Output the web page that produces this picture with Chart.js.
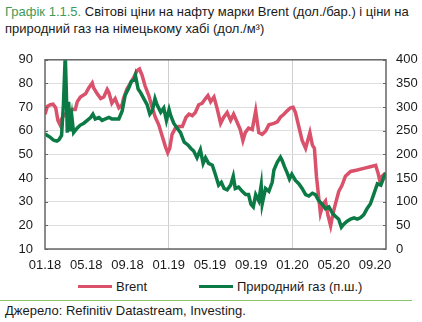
<!DOCTYPE html>
<html>
<head>
<meta charset="utf-8">
<script src="https://cdn.jsdelivr.net/npm/chart.js@4/dist/chart.umd.min.js"></script>
<style>
  body { margin: 0; width: 422px; height: 322px; background: #fff; font-family: "Liberation Sans", Arial, sans-serif; color: #1a1a1a; position: relative; overflow: hidden; }
  #title { position: absolute; left: 5px; top: 3px; font-size: 13px; line-height: 17px; white-space: nowrap; }
  #title .num { color: #3f9b57; }
  #wrap { position: absolute; left: 0; top: 40px; width: 422px; height: 239px; }
  .leg { position: absolute; top: 279px; font-size: 13px; line-height: 16px; white-space: nowrap; }
  .leg i { display: inline-block; width: 34px; height: 3px; vertical-align: middle; margin-right: 4px; position: relative; top: -1px; }
  #rule { position: absolute; left: 0; top: 300px; width: 412px; height: 1px; background: #8cc46c; }
  #src { position: absolute; left: 5px; top: 303px; font-size: 13px; line-height: 16px; }
</style>
</head>
<body>
<div id="title"><span class="num">Графік 1.1.5.</span> Світові ціни на нафту марки Brent (дол./бар.) і ціни на<br>природний газ на німецькому хабі (дол./м³)</div>
<div id="wrap"><canvas id="chart"></canvas></div>
<div class="leg" style="left:78px"><i style="background:#d9516a"></i>Brent</div>
<div class="leg" style="left:199px"><i style="background:#0b7a45"></i>Природний газ (п.ш.)</div>
<div id="rule"></div>
<div id="src">Джерело: Refinitiv Datastream, Investing.</div>
<script>
// Brent, USD per barrel (left axis)
const brentDates = [
  '2018-01-01','2018-01-08','2018-01-17','2018-01-25','2018-02-02','2018-02-08','2018-02-14','2018-02-18',
  '2018-02-24','2018-03-06','2018-03-20','2018-03-30','2018-04-05','2018-04-14','2018-04-29','2018-05-09',
  '2018-05-19','2018-05-23','2018-06-03','2018-06-13','2018-06-22','2018-07-02','2018-07-07','2018-07-16',
  '2018-07-26','2018-08-06','2018-08-16','2018-08-20','2018-08-30','2018-09-10','2018-09-20','2018-09-29',
  '2018-10-06','2018-10-14','2018-10-23','2018-11-03','2018-11-13','2018-11-22','2018-12-02','2018-12-12',
  '2018-12-22','2018-12-29','2019-01-04','2019-01-11','2019-01-21','2019-01-31','2019-02-10','2019-02-20',
  '2019-02-28','2019-03-10','2019-03-19','2019-03-29','2019-04-08','2019-04-18','2019-04-25','2019-05-03',
  '2019-05-13','2019-05-22','2019-06-02','2019-06-11','2019-06-21','2019-07-01','2019-07-10','2019-07-20',
  '2019-07-30','2019-08-07','2019-08-14','2019-08-24','2019-09-04','2019-09-14','2019-09-23','2019-10-03',
  '2019-10-13','2019-10-23','2019-11-07','2019-11-17','2019-11-26','2019-12-06','2019-12-16','2019-12-26',
  '2020-01-03','2020-01-10','2020-01-20','2020-01-30','2020-02-09','2020-02-21','2020-02-28','2020-03-05',
  '2020-03-11','2020-03-18','2020-03-23','2020-03-31','2020-04-07','2020-04-14','2020-04-22','2020-04-29',
  '2020-05-06','2020-05-16','2020-05-26','2020-06-05','2020-06-20','2020-07-10','2020-07-29','2020-08-18',
  '2020-09-03','2020-09-10','2020-09-15','2020-09-22','2020-10-02'
];
const brentValues = [
  67, 70.3, 71, 71.2, 69.7, 64.4, 62.5, 65,
  66.4, 68, 69, 69, 72.3, 74.3, 75.6, 78.2,
  80.2, 78.2, 75.6, 73.6, 74.3, 77.5, 76.2, 71.6,
  73.6, 69.7, 71, 73.6, 77.5, 80.2, 82.8, 85.4,
  86.1, 83.4, 78.9, 74.9, 69.7, 65.7, 62.5, 57.9,
  53.3, 50.7, 52.6, 58.5, 61.1, 61.8, 61.8, 65.7,
  67, 66.4, 67.7, 71, 71.6, 73.6, 74.9, 72.3,
  74.3, 69.7, 63.1, 65.7, 67.7, 64.4, 67, 63.8,
  60.5, 55.9, 59.2, 61.1, 60.5, 68.4, 59.2, 58.5,
  59.8, 62.5, 63.1, 63.8, 65.7, 67, 68.4, 69.7,
  69.9, 67.7, 61.8, 55.9, 52.6, 59.2, 53.9, 52.6,
  40.8, 31.6, 25.1, 29, 30.3, 24.4, 19.8, 25.1,
  29, 34.3, 36.9, 40.8, 42.8, 43.4, 44.1, 44.8,
  45.4, 42.1, 38.9, 40.8, 42.1
];

// Natural gas, German hub (right axis)
const gasDates = [
  '2018-01-01','2018-01-08','2018-01-17','2018-01-27','2018-02-05','2018-02-11','2018-02-18','2018-02-23',
  '2018-02-28','2018-03-03','2018-03-06','2018-03-10','2018-03-15','2018-03-20','2018-03-25','2018-04-05',
  '2018-04-14','2018-04-24','2018-05-04','2018-05-14','2018-05-21','2018-05-28','2018-06-08','2018-06-17',
  '2018-06-27','2018-07-07','2018-07-16','2018-07-26','2018-08-06','2018-08-16','2018-08-25','2018-09-05',
  '2018-09-12','2018-09-20','2018-09-24','2018-10-02','2018-10-09','2018-10-19','2018-10-29','2018-11-06',
  '2018-11-13','2018-11-21','2018-11-27','2018-12-08','2018-12-17','2018-12-25','2019-01-02','2019-01-07',
  '2019-01-16','2019-01-26','2019-02-05','2019-02-15','2019-02-25','2019-03-05','2019-03-14','2019-03-24',
  '2019-04-03','2019-04-11','2019-04-18','2019-04-27','2019-05-08','2019-05-17','2019-05-27','2019-06-04',
  '2019-06-12','2019-06-21','2019-07-01','2019-07-09','2019-07-15','2019-07-25','2019-08-05','2019-08-15',
  '2019-08-24','2019-08-31','2019-09-07','2019-09-14','2019-09-23','2019-09-30','2019-10-03','2019-10-13',
  '2019-10-23','2019-11-02','2019-11-07','2019-11-17','2019-11-26','2019-12-01','2019-12-08','2019-12-16',
  '2019-12-23','2019-12-30','2020-01-10','2020-01-20','2020-01-30','2020-02-09','2020-02-18','2020-02-28',
  '2020-03-08','2020-03-18','2020-03-28','2020-04-07','2020-04-17','2020-04-27','2020-05-06','2020-05-16',
  '2020-05-24','2020-06-01','2020-06-10','2020-06-20','2020-06-30','2020-07-10','2020-07-19','2020-07-29',
  '2020-08-08','2020-08-18','2020-08-28','2020-09-08','2020-09-18','2020-09-25','2020-10-02'
];
const gasValues = [
  243, 240, 236, 230, 228, 231, 240, 305,
  410, 337, 246, 311, 249, 278, 246, 256,
  262, 266, 272, 278, 285, 275, 278, 272,
  275, 278, 275, 275, 275, 292, 325, 341,
  354, 357, 367, 338, 331, 318, 305, 285,
  292, 318, 305, 289, 298, 272, 295, 282,
  266, 256, 246, 226, 220, 213, 207, 193,
  210, 181, 193, 181, 177, 158, 135, 141,
  128, 125, 135, 154, 128, 131, 122, 115,
  115, 95, 89, 115, 102, 135, 95, 128,
  122, 141, 167, 184, 194, 187, 174, 161,
  148, 158, 145, 138, 128, 115, 112, 118,
  115, 102, 95, 85, 89, 76, 69, 63,
  46, 53, 59, 63, 66, 63, 66, 72,
  85, 95, 115, 138, 135, 148, 161
];

const leftTicks = { min: 10, max: 90, step: 10 };
const rightTicks = { min: 0, max: 400, step: 50 };
const monthLabelStep = 4;
const lastMonth = 33.07;

const COLORS = { brent: '#d9516a', gas: '#0b7a45', grid: '#dedede', axis: '#666', text: '#1a1a1a' };

// months elapsed since 1 Jan 2018, fractional
function monthPos(s) {
  const [y, m, d] = s.split('-').map(Number);
  const days = new Date(Date.UTC(y, m, 0)).getUTCDate();
  return (y - 2018) * 12 + (m - 1) + (d - 1) / days;
}

function monthLabel(v) {
  const mm = (v % 12) + 1;
  const yy = 18 + Math.floor(v / 12);
  return String(mm).padStart(2, '0') + '.' + yy;
}

// frame around the plot plus short inner ticks on both value axes
const framePlugin = {
  id: 'frame',
  afterDraw(chart) {
    const { ctx, chartArea: a, scales } = chart;
    ctx.save();
    ctx.strokeStyle = COLORS.axis;
    ctx.lineWidth = 1.5;
    ctx.strokeRect(a.left, a.top, a.right - a.left, a.bottom - a.top);
    ctx.lineWidth = 1;
    scales.y.ticks.forEach(t => {
      const y = Math.round(scales.y.getPixelForValue(t.value)) + 0.5;
      ctx.beginPath(); ctx.moveTo(a.left, y); ctx.lineTo(a.left + 3, y); ctx.stroke();
    });
    scales.y1.ticks.forEach(t => {
      const y = Math.round(scales.y1.getPixelForValue(t.value)) + 0.5;
      ctx.beginPath(); ctx.moveTo(a.right - 3, y); ctx.lineTo(a.right, y); ctx.stroke();
    });
    ctx.restore();
  },
};

const tickFont = { family: "'Liberation Sans', Arial, sans-serif", size: 13 };

new Chart(document.getElementById('chart'), {
  type: 'line',
  data: {
    datasets: [
      {
        label: 'Природний газ (п.ш.)',
        data: gasDates.map((d, i) => ({ x: monthPos(d), y: gasValues[i] })),
        yAxisID: 'y1', borderColor: COLORS.gas, borderWidth: 3.5, pointRadius: 0, tension: 0, order: 1,
      },
      {
        label: 'Brent',
        data: brentDates.map((d, i) => ({ x: monthPos(d), y: brentValues[i] })),
        yAxisID: 'y', borderColor: COLORS.brent, borderWidth: 3.5, pointRadius: 0, tension: 0, order: 2,
      },
    ],
  },
  options: {
    responsive: true,
    maintainAspectRatio: false,
    animation: false,
    layout: { padding: { top: 6, left: 0, right: 0, bottom: 0 } },
    plugins: { legend: { display: false }, tooltip: { enabled: false } },
    scales: {
      x: {
        type: 'linear', min: 0, max: lastMonth,
        grid: {
          drawTicks: false,
          color: c => (c.tick && c.tick.value > 0 && c.tick.value % 12 === 0) ? '#cfcfcf' : 'rgba(0,0,0,0)',
        },
        border: { display: false },
        ticks: { stepSize: monthLabelStep, includeBounds: false, padding: 9, color: COLORS.text, font: tickFont, maxRotation: 0, callback: v => monthLabel(v) },
        afterFit: s => { s.height = 30; },
      },
      y: {
        position: 'left', min: leftTicks.min, max: leftTicks.max,
        grid: { drawTicks: false, color: COLORS.grid },
        border: { display: false },
        ticks: { stepSize: leftTicks.step, padding: 12, color: COLORS.text, font: tickFont },
        afterFit: s => { s.width = 45; },
      },
      y1: {
        position: 'right', min: rightTicks.min, max: rightTicks.max,
        grid: { display: false, drawTicks: false },
        border: { display: false },
        ticks: { stepSize: rightTicks.step, padding: 10, color: COLORS.text, font: tickFont },
        afterFit: s => { s.width = 36; },
      },
    },
  },
  plugins: [framePlugin],
});
</script>
</body>
</html>
